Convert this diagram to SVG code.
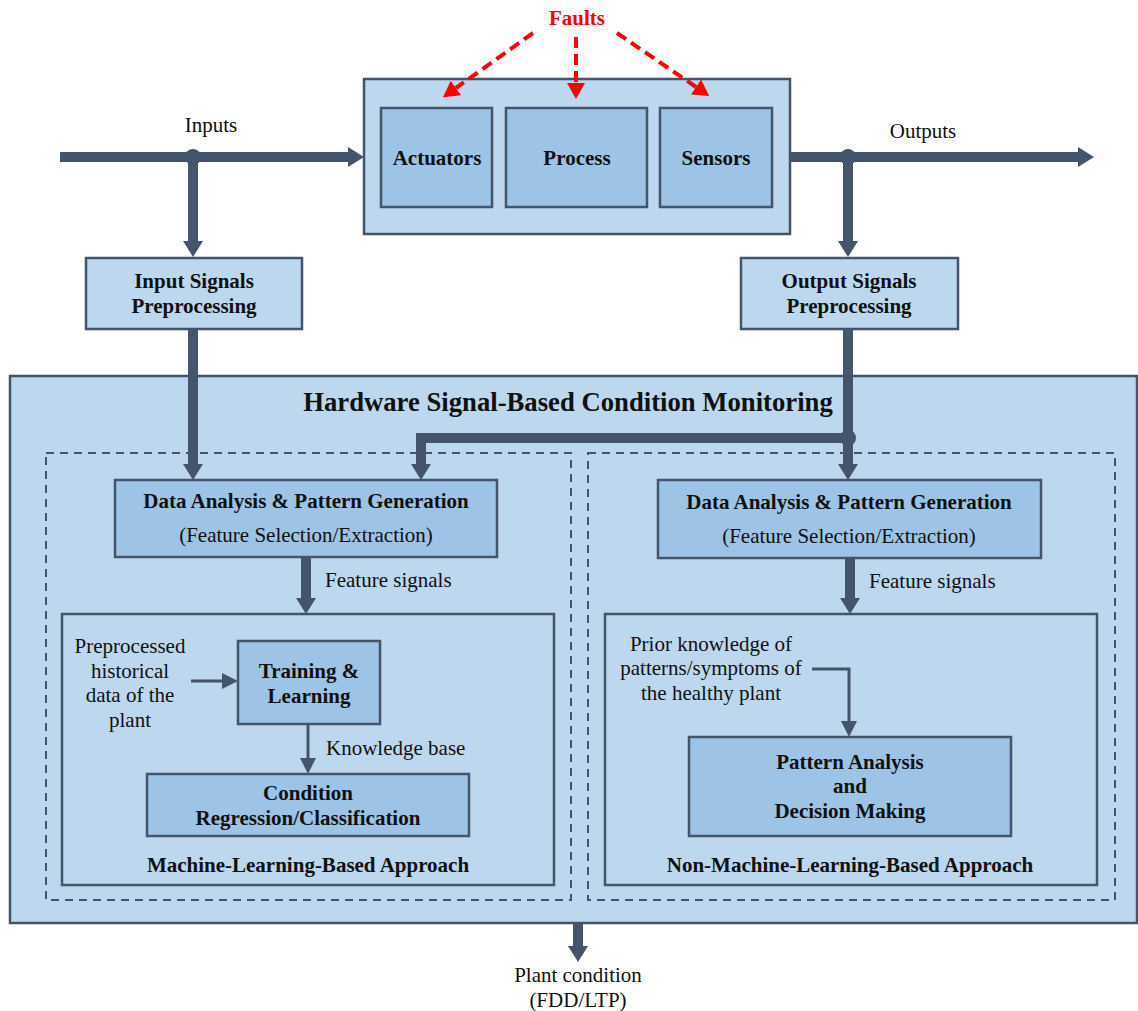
<svg xmlns="http://www.w3.org/2000/svg" width="1138" height="1011" viewBox="0 0 1138 1011">
  <style>
    .outer { fill: #BDD7EE; stroke: #44546A; stroke-width: 2.5; }
    .inner { fill: #9DC3E6; stroke: #44546A; stroke-width: 2.5; }
    .dash { fill: none; stroke: #44546A; stroke-width: 2; stroke-dasharray: 8 6; }
    .thick { fill: none; stroke: #44546A; stroke-width: 10; }
    .thin { fill: none; stroke: #44546A; stroke-width: 3; }
    .fault { fill: none; stroke: #FF0000; stroke-width: 4; stroke-dasharray: 11 6; }
    text { font-family: "Liberation Serif", "Times New Roman", serif; font-size: 21px; fill: #111; }
    .b { font-weight: bold; }
    .c { text-anchor: middle; }
    .title { font-size: 26.7px; font-weight: bold; text-anchor: middle; }
    .red { fill: #FF0000; font-weight: bold; text-anchor: middle; }
  </style>
  <defs>
    <marker id="headThick" markerUnits="userSpaceOnUse" viewBox="0 0 16 20" markerWidth="16" markerHeight="20" refX="0" refY="10" orient="auto">
      <path d="M0,0 L16,10 L0,20 Z" fill="#44546A"/>
    </marker>
    <marker id="headThin" markerUnits="userSpaceOnUse" viewBox="0 0 16 16" markerWidth="16" markerHeight="16" refX="0" refY="8" orient="auto">
      <path d="M0,0 L16,8 L0,16 Z" fill="#44546A"/>
    </marker>
    <marker id="headRed" markerUnits="userSpaceOnUse" viewBox="0 0 16 18" markerWidth="16" markerHeight="18" refX="0" refY="9" orient="auto">
      <path d="M0,0 L16,9 L0,18 Z" fill="#FF0000"/>
    </marker>
  </defs>

  <rect width="1138" height="1011" fill="#FFFFFF"/>

  <!-- Plant block -->
  <g id="plant">
    <rect class="outer" x="364" y="79" width="426" height="155"/>
  </g>
  <g id="actuators">
    <rect class="inner" x="381" y="108" width="111" height="99"/>
    <text class="b c" x="437" y="165">Actuators</text>
  </g>
  <g id="process">
    <rect class="inner" x="506" y="108" width="141" height="99"/>
    <text class="b c" x="577" y="165">Process</text>
  </g>
  <g id="sensors">
    <rect class="inner" x="660" y="108" width="112" height="99"/>
    <text class="b c" x="716" y="165">Sensors</text>
  </g>

  <g id="faults">
    <text class="red" x="577" y="25">Faults</text>
  </g>

  <!-- Preprocessing blocks -->
  <g id="input-preprocessing">
    <rect class="outer" x="86" y="258" width="216" height="71"/>
    <text class="b c" x="194" y="288">Input Signals</text>
    <text class="b c" x="194" y="313">Preprocessing</text>
  </g>
  <g id="output-preprocessing">
    <rect class="outer" x="741" y="258" width="217" height="71"/>
    <text class="b c" x="849" y="288">Output Signals</text>
    <text class="b c" x="849" y="313">Preprocessing</text>
  </g>

  <!-- Condition monitoring container -->
  <g id="condition-monitoring">
    <rect class="outer" x="10" y="376" width="1127" height="547" stroke-width="2"/>
    <text class="title" x="568" y="411">Hardware Signal-Based Condition Monitoring</text>
  </g>

  <g id="ml-branch">
    <rect class="dash" x="46" y="453" width="525" height="447"/>
  </g>
  <g id="non-ml-branch">
    <rect class="dash" x="588" y="453" width="527" height="447"/>
  </g>

  <g id="data-analysis-left">
    <rect class="inner" x="115" y="480" width="382" height="77"/>
    <text class="b c" x="306" y="508">Data Analysis &amp; Pattern Generation</text>
    <text class="c" x="306" y="542">(Feature Selection/Extraction)</text>
  </g>
  <g id="data-analysis-right">
    <rect class="inner" x="658" y="480" width="383" height="78"/>
    <text class="b c" x="849" y="509">Data Analysis &amp; Pattern Generation</text>
    <text class="c" x="849" y="543">(Feature Selection/Extraction)</text>
  </g>

  <g id="ml-approach">
    <rect class="outer" x="62" y="614" width="492" height="271"/>
    <text class="b c" x="308" y="872">Machine-Learning-Based Approach</text>
  </g>
  <g id="historical-data">
    <text class="c" x="130" y="653">Preprocessed</text>
    <text class="c" x="130" y="678">historical</text>
    <text class="c" x="130" y="702">data of the</text>
    <text class="c" x="130" y="727">plant</text>
  </g>
  <g id="training">
    <rect class="inner" x="238" y="641" width="142" height="83"/>
    <text class="b c" x="309" y="678">Training &amp;</text>
    <text class="b c" x="309" y="703">Learning</text>
  </g>
  <g id="classification">
    <rect class="inner" x="147" y="774" width="322" height="62"/>
    <text class="b c" x="308" y="800">Condition</text>
    <text class="b c" x="308" y="825">Regression/Classification</text>
  </g>

  <g id="non-ml-approach">
    <rect class="outer" x="605" y="614" width="492" height="271"/>
    <text class="b c" x="850" y="872">Non-Machine-Learning-Based Approach</text>
  </g>
  <g id="prior-knowledge">
    <text class="c" x="711" y="651">Prior knowledge of</text>
    <text class="c" x="711" y="675">patterns/symptoms of</text>
    <text class="c" x="711" y="700">the healthy plant</text>
  </g>
  <g id="decision-making">
    <rect class="inner" x="689" y="737" width="322" height="99"/>
    <text class="b c" x="850" y="769">Pattern Analysis</text>
    <text class="b c" x="850" y="793">and</text>
    <text class="b c" x="850" y="818">Decision Making</text>
  </g>

  <g id="plant-condition">
    <text class="c" x="578" y="982">Plant condition</text>
    <text class="c" x="578" y="1007">(FDD/LTP)</text>
  </g>

  <!-- Connectors -->
  <g id="connectors">
    <path class="fault" d="M533,33 L456,88" marker-end="url(#headRed)"/>
    <path class="fault" d="M576,37 L576,83" marker-end="url(#headRed)"/>
    <path class="fault" d="M617,33 L696,87" marker-end="url(#headRed)"/>

    <path class="thick" d="M60,157 H348" marker-end="url(#headThick)"/>
    <path class="thick" d="M193,157 V241" marker-end="url(#headThick)"/>
    <path class="thick" d="M790,157 H1078" marker-end="url(#headThick)"/>
    <path class="thick" d="M848,157 V241" marker-end="url(#headThick)"/>
    <path class="thick" d="M193,329 V464" marker-end="url(#headThick)"/>
    <path class="thick" d="M848,329 V464" marker-end="url(#headThick)"/>
    <path class="thick" d="M848,438 H421 V464" marker-end="url(#headThick)"/>
    <path class="thick" d="M306,557 V598" marker-end="url(#headThick)"/>
    <path class="thick" d="M850,558 V598" marker-end="url(#headThick)"/>
    <path class="thick" d="M578,923 V946" marker-end="url(#headThick)"/>

    <circle cx="193" cy="157" r="8" fill="#44546A"/>
    <circle cx="848" cy="157" r="8" fill="#44546A"/>
    <circle cx="848" cy="438" r="8" fill="#44546A"/>

    <path class="thin" d="M191,681 H222" marker-end="url(#headThin)"/>
    <path class="thin" d="M308,724 V758" marker-end="url(#headThin)"/>
    <path class="thin" d="M812,669 H849 V721" marker-end="url(#headThin)"/>

    <text x="211" y="132" class="c">Inputs</text>
    <text x="923" y="138" class="c">Outputs</text>
    <text x="325" y="587">Feature signals</text>
    <text x="869" y="588">Feature signals</text>
    <text x="326" y="755">Knowledge base</text>
  </g>
</svg>
